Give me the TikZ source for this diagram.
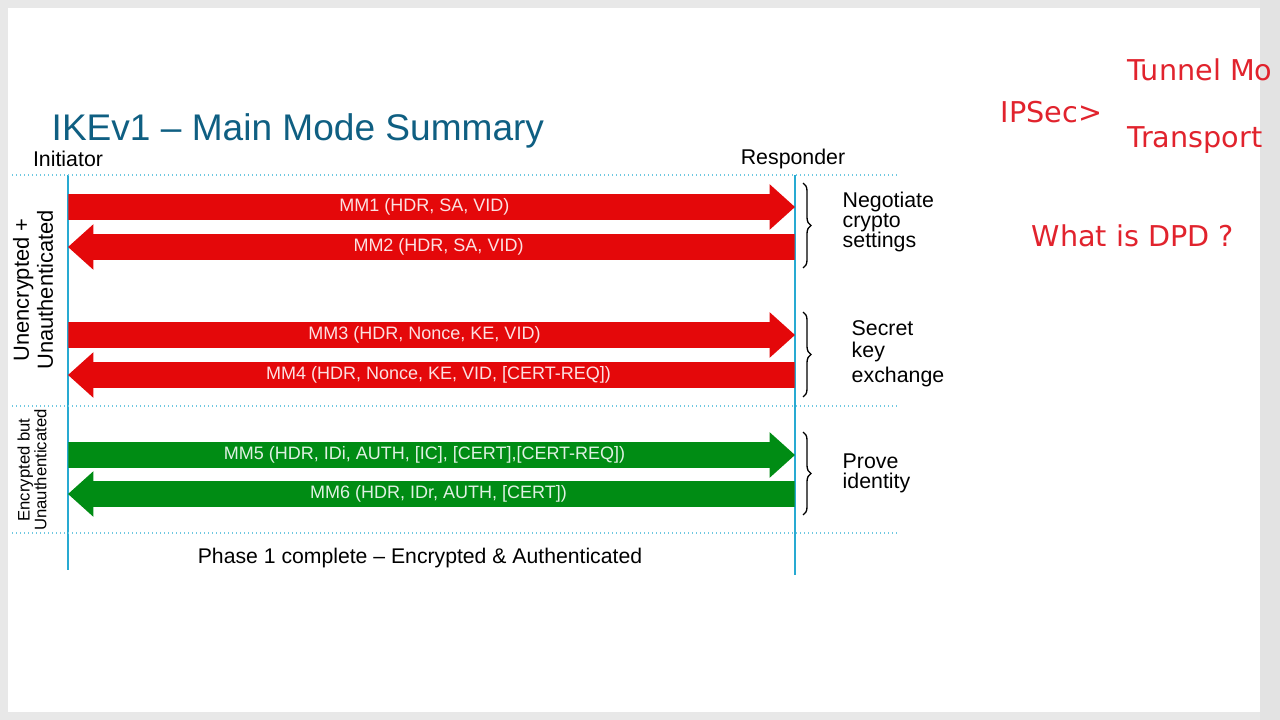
\documentclass[tikz,border=0pt]{standalone}
\usepackage{fontspec}
\setmainfont{Liberation Sans}
\newfontfamily\notefont{DejaVu Sans}
\usetikzlibrary{shapes.arrows,decorations.pathreplacing}
\definecolor{lifeblue}{RGB}{40,170,210}
\definecolor{dotblue}{RGB}{110,200,225}
\definecolor{titleblue}{RGB}{15,95,130}
\definecolor{msgred}{RGB}{228,8,10}
\definecolor{msggreen}{RGB}{0,140,20}
\definecolor{notered}{RGB}{225,35,45}
\tikzset{
  msg/.style={single arrow, draw=none, fill=#1, text=white!88!#1,
    minimum height=545pt, minimum width=33.75pt, inner xsep=0pt, inner ysep=2.9pt,
    single arrow head extend=7.5pt, single arrow tip angle=84,
    text height=10pt, text depth=3pt, font=\fontsize{13.5}{15}\selectfont},
  life/.style={lifeblue, line width=1pt},
  sep/.style={dotblue, dotted, line width=1pt},
  phase/.style={decorate, decoration={brace, amplitude=6pt}, line width=1pt},
  note/.style={anchor=west, align=left, font=\fontsize{16}{18}\selectfont},
  redtext/.style={anchor=west, text=notered, font=\notefont\fontsize{21.5}{24}\selectfont}
}
\begin{document}
\begin{tikzpicture}[x=0.75pt,y=-0.75pt]
\fill[gray!18] (0,0) rectangle (1280,720);
\fill[white] (8,8) rectangle (1260,712);
\fill[gray!22] (1260,0) rectangle (1280,720);
\useasboundingbox (0,0) rectangle (1280,720);

% title and actors
\node[anchor=west, text=titleblue, font=\fontsize{27.8}{30}\selectfont] (title) at (47,131) {IKEv1 -- Main Mode Summary};
\node[font=\fontsize{16}{18}\selectfont] (init) at (68,159) {Initiator};
\node[font=\fontsize{16}{18}\selectfont] (resp) at (793,159) {Responder};

% lifelines and separators
\coordinate (i0) at (68,175); \coordinate (i1) at (68,570);
\coordinate (r0) at (795,175); \coordinate (r1) at (795,575);
\draw[life] (i0) -- (i1);
\draw[life] (r0) -- (r1);
\foreach \y in {175,406,533}
  \draw[sep] (12,\y) -- (898,\y);

% messages
\node[msg=msgred, anchor=tail] (mm1) at (68,207) {MM1 (HDR, SA, VID)};
\node[msg=msgred, anchor=tail, shape border rotate=180] (mm2) at (795,247) {MM2 (HDR, SA, VID)};
\node[msg=msgred, anchor=tail] (mm3) at (68,335) {MM3 (HDR, Nonce, KE, VID)};
\node[msg=msgred, anchor=tail, shape border rotate=180] (mm4) at (795,375) {MM4 (HDR, Nonce, KE, VID, [CERT-REQ])};
\node[msg=msggreen, anchor=tail] (mm5) at (68,455) {MM5 (HDR, IDi, AUTH, [IC], [CERT],[CERT-REQ])};
\node[msg=msggreen, anchor=tail, shape border rotate=180] (mm6) at (795,494) {MM6 (HDR, IDr, AUTH, [CERT])};

% braces
\draw[phase] (803,183) -- (803,268);
\draw[phase] (803,312) -- (803,397);
\draw[phase] (803,432) -- (803,515);
\node[note] (neg) at (838,222) {Negotiate\\[-3pt]crypto\\[-3pt]settings};
\node[note] (sec) at (847,354) {Secret\\[-2pt]key\\[1pt]exchange};
\node[note] (prove) at (838,473) {Prove\\[-3pt]identity};

% side labels
\node[rotate=90, align=center, font=\fontsize{16.4}{18}\selectfont] (unenc) at (33,290) {Unencrypted +\\Unauthenticated};
\node[rotate=90, align=center, font=\fontsize{12.5}{12.5}\selectfont] (enc) at (32,470) {Encrypted but\\Unauthenticated};
\node[font=\fontsize{15.9}{18}\selectfont] (done) at (420,558) {Phase 1 complete -- Encrypted \& Authenticated};

% handwritten notes
\node[redtext] (ipsec) at (996,112) {IPSec>};
\node[redtext] (tunnel) at (1123,70) {Tunnel Mo};
\node[redtext] (transport) at (1123,140) {Transport};
\node[redtext] (dpd) at (1027,236) {What is DPD ?};
\end{tikzpicture}
\end{document}
